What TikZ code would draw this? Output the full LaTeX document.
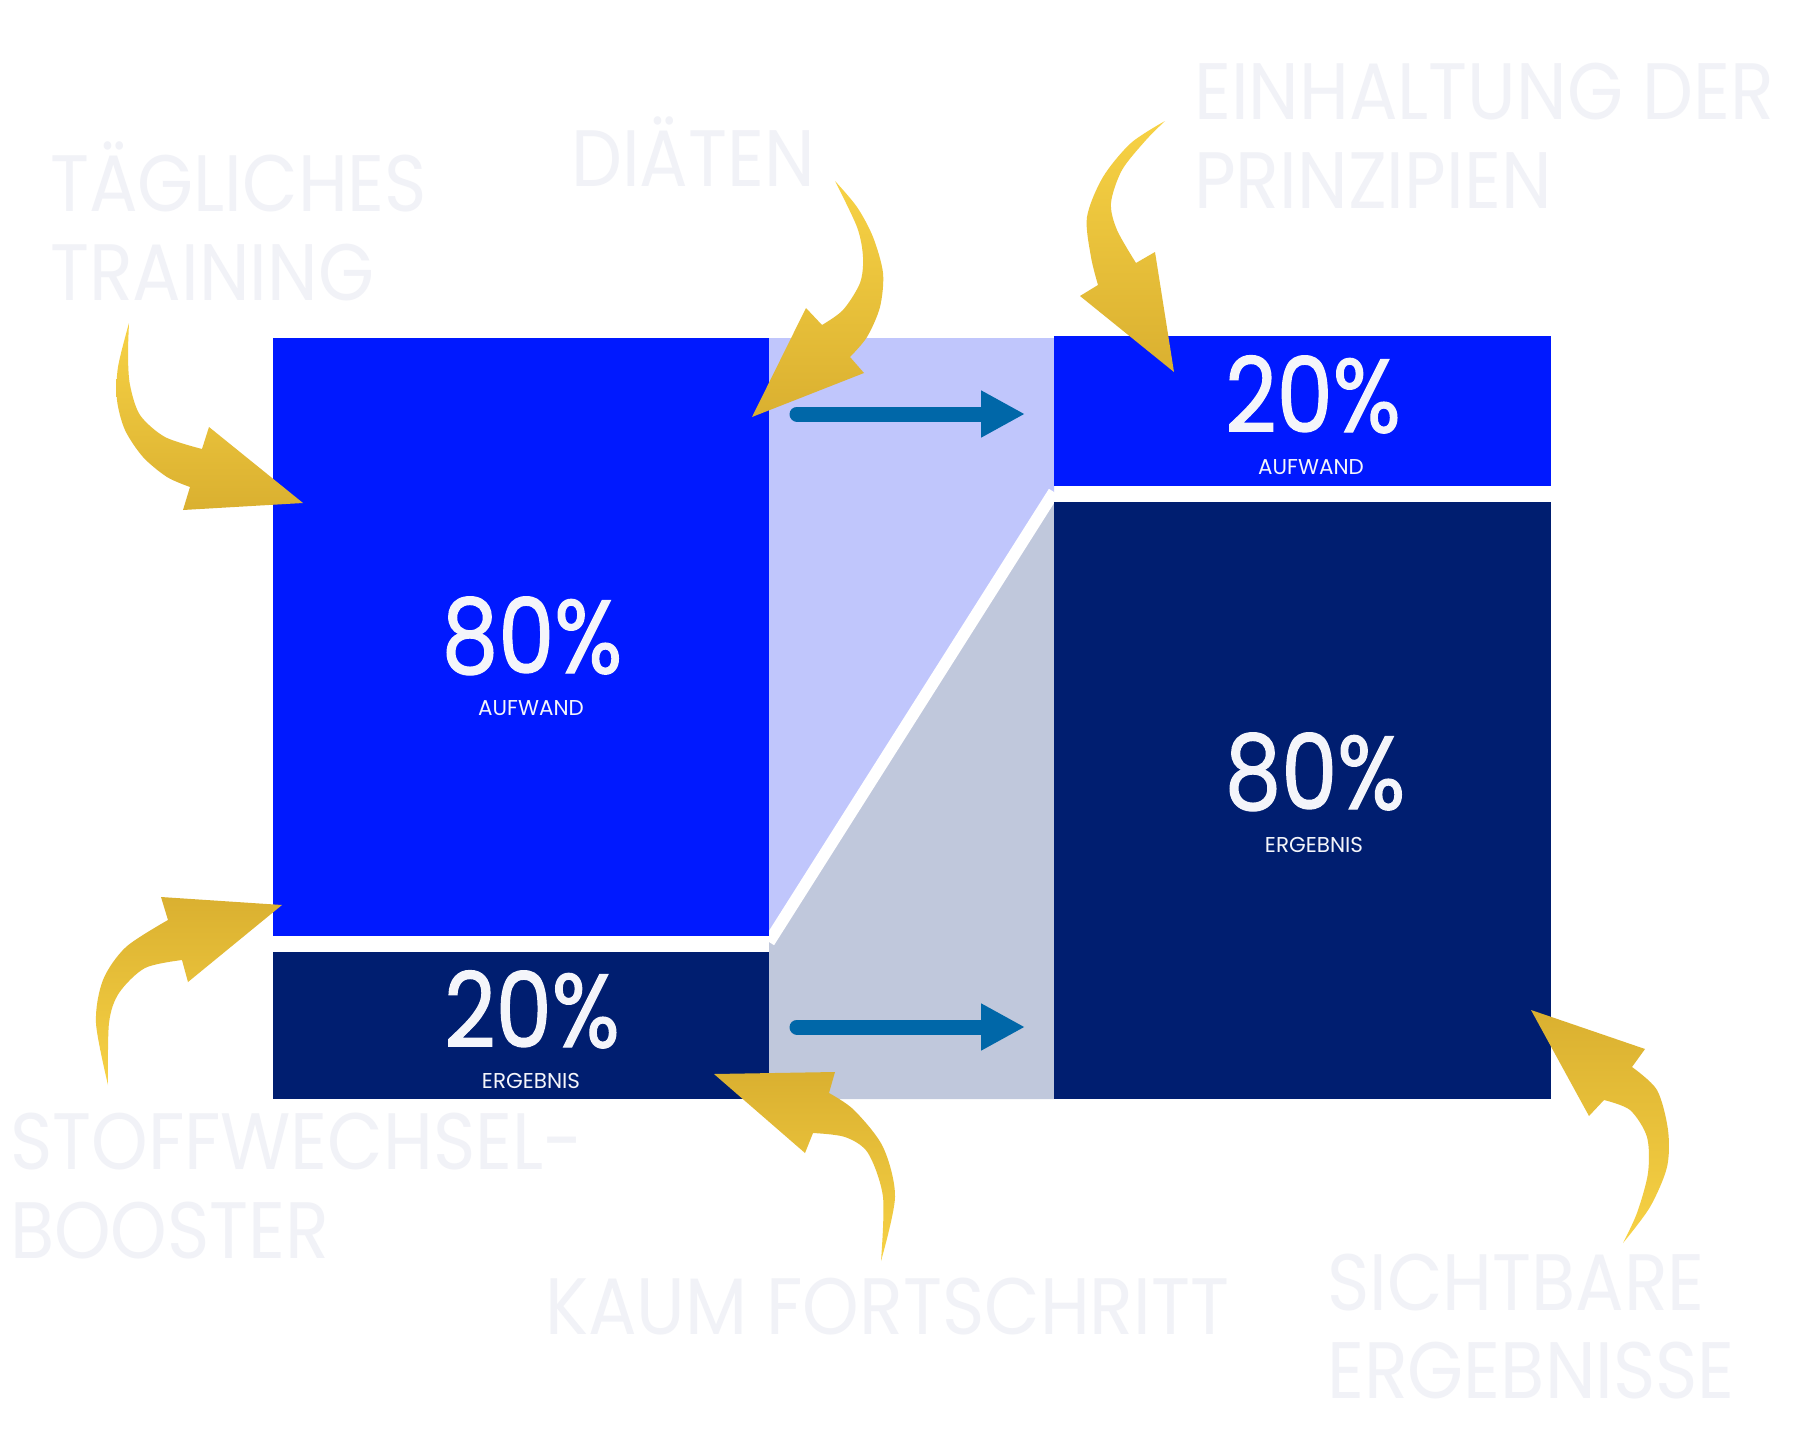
\documentclass[tikz,border=0pt]{standalone}
\usepackage{fontspec}
\setmainfont{Poppins}
\newfontfamily\lblfont[FakeStretch=0.9]{Poppins}
\newfontfamily\pctfont[FakeStretch=0.86,FakeBold=1.2]{Poppins}
\usetikzlibrary{arrows.meta}
\definecolor{vivid}{HTML}{0019FF}
\definecolor{navy}{HTML}{001E70}
\definecolor{lav}{HTML}{C0C6FC}
\definecolor{greyblue}{HTML}{C0C8DC}
\definecolor{tealc}{HTML}{0067A8}
\definecolor{faint}{HTML}{F1F2F7}
\definecolor{wtext}{HTML}{F4F5FA}
\definecolor{ylight}{HTML}{F7D245}
\definecolor{ydark}{HTML}{DAB030}
\begin{document}
\begin{tikzpicture}[x=1pt,y=-1pt,
  box/.style={inner sep=0pt, outer sep=0pt, anchor=north west, draw=none},
  vividbox/.style={box, fill=vivid},
  navybox/.style={box, fill=navy},
  biglabel/.style={anchor=base west, inner sep=0pt, text=faint, font=\lblfont\fontsize{80}{80}\selectfont},
  pct/.style={anchor=base, inner sep=0pt, text depth=0pt, text=wtext, font=\pctfont\fontsize{104}{104}\selectfont},
  pctsub/.style={anchor=base, inner sep=0pt, text depth=0pt, text=wtext, font=\fontsize{21.5}{21.5}\selectfont},
  tealarrow/.style={draw=tealc, line width=15pt, line cap=round, -{Triangle[length=44pt,width=44pt]}},
  ydown/.style={top color=ylight, bottom color=ydark, draw=none},
  yup/.style={top color=ydark, bottom color=ylight, draw=none}
]
\useasboundingbox (0,0) rectangle (1800,1440);
\fill[white] (0,0) rectangle (1800,1440);

% middle connecting band
\coordinate (gl) at (769,942);
\coordinate (gr) at (1054,492);
\fill[lav] (769,338) -- (1054,338) -- (gr) -- (gl) -- cycle;
\fill[greyblue] (gl) -- (gr) -- (1054,1099) -- (769,1099) -- cycle;
\draw[white, line width=12pt] (gl) -- (gr);

% boxes
\node[vividbox, minimum width=496pt, minimum height=598pt] (ltop) at (273,338) {};
\node[navybox, minimum width=496pt, minimum height=147pt] (lbot) at (273,952) {};
\node[vividbox, minimum width=497pt, minimum height=150pt] (rtop) at (1054,336) {};
\node[navybox, minimum width=497pt, minimum height=597pt] (rbot) at (1054,502) {};

% percentages
\node[pct] (p1) at (532,673) {80\%};
\node[pctsub] (s1) at (531,715) {AUFWAND};
\node[pct] (p2) at (532,1047) {20\%};
\node[pctsub] (s2) at (531,1088) {ERGEBNIS};
\node[pct] (p3) at (1313,432) {20\%};
\node[pctsub] (s3) at (1311,474) {AUFWAND};
\node[pct] (p4) at (1315,809) {80\%};
\node[pctsub] (s4) at (1314,852) {ERGEBNIS};

% teal arrows
\coordinate (ta1) at (797,414);
\coordinate (tb1) at (1025,414);
\coordinate (ta2) at (797,1027);
\coordinate (tb2) at (1025,1027);
\draw[tealarrow] (ta1) -- (tb1);
\draw[tealarrow] (ta2) -- (tb2);

% labels
\node[biglabel] (l1a) at (50,211) {TÄGLICHES};
\node[biglabel] (l1b) at (50,300) {TRAINING};
\node[biglabel] (l2) at (571,186) {DIÄTEN};
\node[biglabel] (l3a) at (1194,119) {EINHALTUNG DER};
\node[biglabel] (l3b) at (1194,208) {PRINZIPIEN};
\node[biglabel] (l4a) at (10,1169) {STOFFWECHSEL-};
\node[biglabel] (l4b) at (10,1258) {BOOSTER};
\node[biglabel] (l5) at (545,1334) {KAUM FORTSCHRITT};
\node[biglabel] (l6a) at (1327,1310) {SICHTBARE};
\node[biglabel] (l6b) at (1327,1398) {ERGEBNISSE};

% yellow curved arrows
% Training
\shade[ydown] plot[smooth] coordinates {(129,323) (118,367) (117,400) (125,430) (143,457) (167,477) (190,487)}
  -- (183,510) -- (303,503) -- (209,427) -- (202,449)
  -- plot[smooth] coordinates {(202,449) (165,437) (140,415) (130,385) (128,355) (129,323)} -- cycle;
% Diaeten
\shade[ydown] plot[smooth] coordinates {(835,181) (857,207) (873,237) (883,273) (880,307) (867,337) (850,357)}
  -- (864,373) -- (752,417) -- (806,308) -- (822,325)
  -- plot[smooth] coordinates {(822,325) (843,310) (860,283) (863,257) (857,227) (835,181)} -- cycle;
% Einhaltung
\shade[ydown] plot[smooth] coordinates {(1165,121) (1131,143) (1103,177) (1087,217) (1091,257) (1098,285)}
  -- (1080,296) -- (1174,372) -- (1155,252) -- (1136,263)
  -- plot[smooth] coordinates {(1136,263) (1117,230) (1111,203) (1122,170) (1146,140) (1165,121)} -- cycle;
% Stoffwechsel
\shade[yup] plot[smooth] coordinates {(108,1085) (96,1023) (103,980) (126,947) (168,920)}
  -- (161,897) -- (282,905) -- (188,982) -- (182,960)
  -- plot[smooth] coordinates {(182,960) (145,968) (119,993) (109,1023) (108,1085)} -- cycle;
% Kaum
\shade[yup] plot[smooth] coordinates {(881,1261) (895,1197) (883,1147) (854,1110) (829,1093)}
  -- (835,1072) -- (714,1074) -- (805,1153) -- (813,1133)
  -- plot[smooth] coordinates {(813,1133) (845,1137) (868,1153) (883,1197) (881,1261)} -- cycle;
% Sichtbare
\shade[yup] plot[smooth] coordinates {(1623,1243) (1650,1207) (1667,1167) (1668,1130) (1657,1090) (1632,1067)}
  -- (1645,1049) -- (1531,1010) -- (1589,1116) -- (1604,1100)
  -- plot[smooth] coordinates {(1604,1100) (1630,1110) (1647,1137) (1648,1173) (1637,1213) (1623,1243)} -- cycle;
\end{tikzpicture}
\end{document}
